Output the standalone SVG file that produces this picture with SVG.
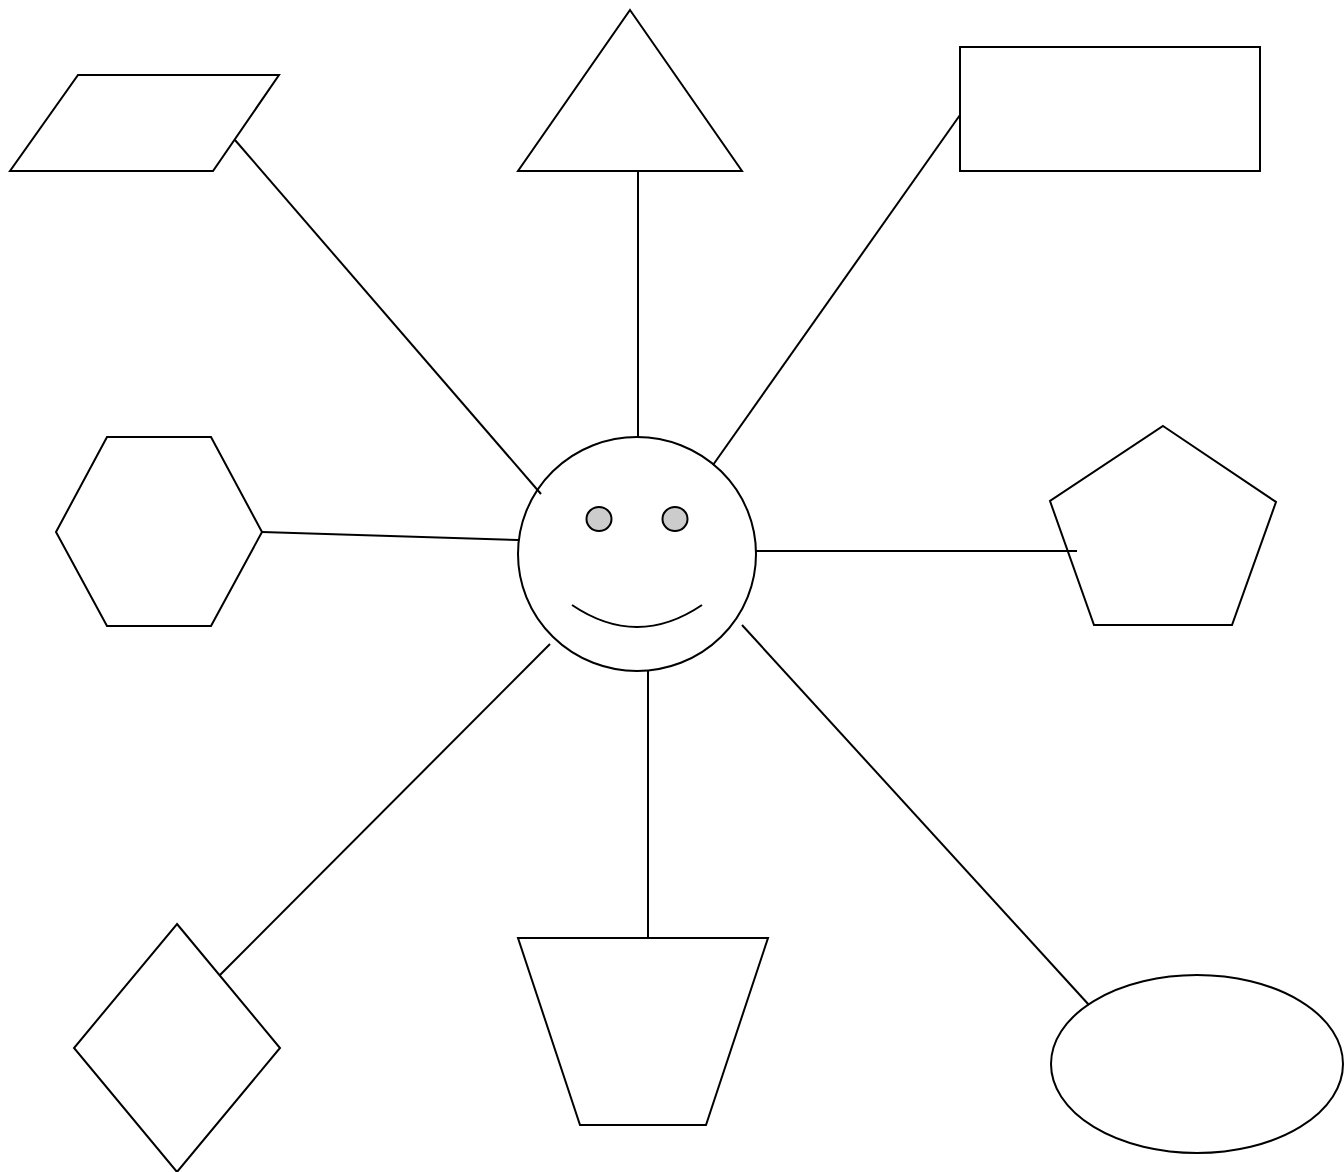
<svg xmlns="http://www.w3.org/2000/svg" width="1344" height="1172" viewBox="0 0 1344 1172">
<style>
.s{fill:#fff;stroke:#000;stroke-width:2}
.c line{stroke:#000;stroke-width:2}
.eye{fill:#ccc;stroke:#000;stroke-width:2}
.m{fill:none;stroke:#000;stroke-width:2}
</style>
<rect width="1344" height="1172" fill="#fff"/>
<g id="parallelogram"><polygon class="s" points="78,75 279,75 213,171 10,171"/></g>
<g id="triangle"><polygon class="s" points="630,10 742,171 518,171"/></g>
<g id="rectangle"><rect class="s" x="960" y="47" width="300" height="124"/></g>
<g id="hexagon"><polygon class="s" points="107,437 211,437 262,532 211,626 107,626 56,532"/></g>
<g id="pentagon"><polygon class="s" points="1163,426 1276,502 1232,625 1094,625 1050,501"/></g>
<g id="diamond"><polygon class="s" points="177,924 280,1048 177,1172 74,1048"/></g>
<g id="trapezoid"><polygon class="s" points="518,938 768,938 706,1125 580,1125"/></g>
<g id="ellipse"><ellipse class="s" cx="1197" cy="1064" rx="146" ry="89"/></g>
<g id="smiley">
<ellipse class="s" cx="637" cy="554" rx="119" ry="117"/>
<ellipse class="eye" cx="599" cy="519" rx="12.5" ry="12"/>
<ellipse class="eye" cx="675" cy="519" rx="12.5" ry="12"/>
<path class="m" d="M572,605 Q637,649 702,605"/>
</g>
<g id="connectors" class="c">
<line x1="235" y1="140" x2="541" y2="494"/>
<line x1="638" y1="171" x2="638" y2="437"/>
<line x1="960" y1="115" x2="713" y2="465"/>
<line x1="262" y1="532" x2="518" y2="540"/>
<line x1="756" y1="551" x2="1077" y2="551"/>
<line x1="648" y1="671" x2="648" y2="938"/>
<line x1="550" y1="644" x2="220" y2="975"/>
<line x1="742" y1="625" x2="1089" y2="1005"/>
</g>
</svg>
